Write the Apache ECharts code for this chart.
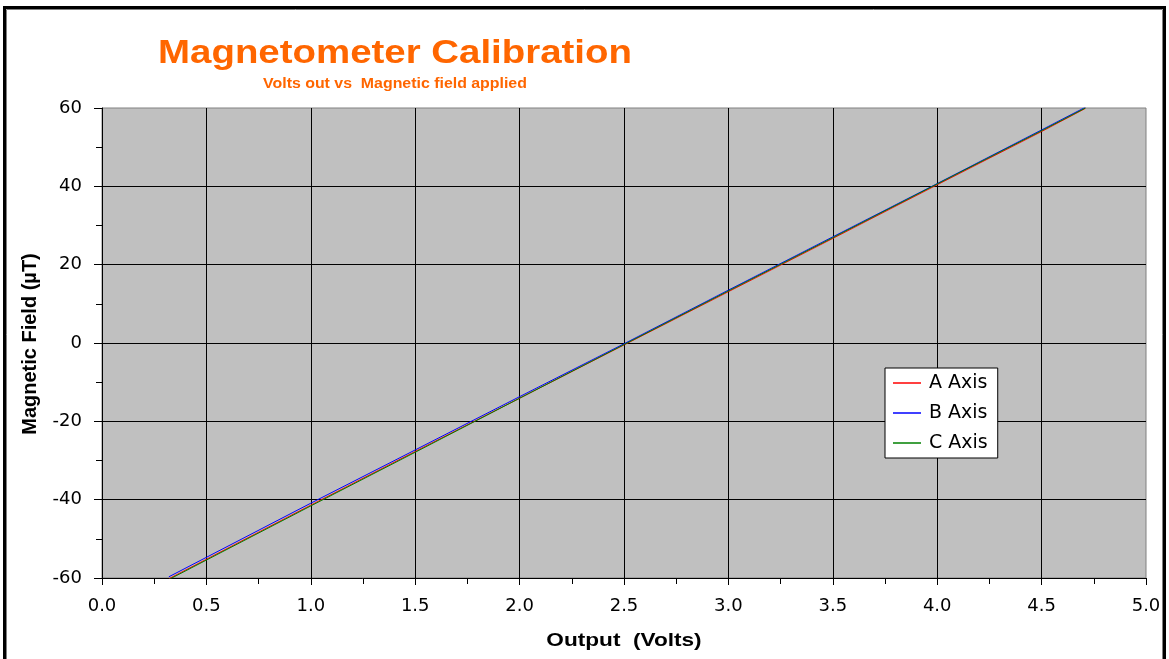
<!DOCTYPE html>
<html>
<head>
<meta charset="utf-8">
<script src="https://cdn.jsdelivr.net/npm/echarts@6/dist/echarts.min.js"></script>
<style>
html,body{margin:0;padding:0;background:#fff;}
#c{width:1169px;height:659px;}
</style>
</head>
<body>
<div id="c"></div>
<script>
// ---- data ----
const volts = [0.32, 1.0, 1.5, 2.0, 2.5, 3.0, 3.5, 4.0, 4.5, 4.71];
const fieldA = [-60.2, -41.4, -27.7, -14.1, -0.5, 13.1, 26.7, 40.4, 54.0, 59.9];
const fieldB = [-59.7, -40.9, -27.3, -13.7, -0.2, 13.5, 27.1, 40.7, 54.4, 60.2];
const fieldC = [-60.4, -41.6, -27.9, -14.1, -0.4, 13.3, 26.9, 40.6, 54.2, 60.0];
const seriesNames = ['A Axis', 'B Axis', 'C Axis'];
const seriesColors = ['#FF0000', '#0000FF', '#008000'];
const xTicks = ['0.0','0.5','1.0','1.5','2.0','2.5','3.0','3.5','4.0','4.5','5.0'];
const yTicks = [-60, -40, -20, 0, 20, 40, 60];
const titleText = 'Magnetometer Calibration';
const subtitleText = 'Volts out vs  Magnetic field applied';
const xName = 'Output  (Volts)';
const yName = 'Magnetic Field (\u00B5T)';

const pair = (vs) => volts.map((v, i) => [v, vs[i]]);
const allFields = [fieldA, fieldB, fieldC];

const chart = echarts.init(document.getElementById('c'), null, {renderer: 'canvas'});
const tickFont = {fontFamily: 'DejaVu Sans', fontSize: 18, color: '#000'};

chart.setOption({
  animation: false,
  backgroundColor: '#ffffff',
  grid: {left: 102, right: 23, top: 108, bottom: 81, show: true,
         backgroundColor: '#C0C0C0', borderColor: '#808080', borderWidth: 1},
  xAxis: {
    type: 'value', min: 0, max: 5, interval: 0.5,
    axisLine: {show: true, onZero: false, lineStyle: {color: '#000', width: 1}},
    axisTick: {show: true, length: 7, lineStyle: {color: '#000'}},
    minorTick: {show: true, splitNumber: 2, length: 6, lineStyle: {color: '#000'}},
    splitLine: {show: true, showMinLine: false, showMaxLine: false, lineStyle: {color: '#000', width: 1}},
    axisLabel: Object.assign({margin: 19, formatter: (v) => xTicks[Math.round(v / 0.5)]}, tickFont)
  },
  yAxis: {
    type: 'value', min: yTicks[0], max: yTicks[yTicks.length - 1], interval: 20,
    axisLine: {show: true, onZero: false, lineStyle: {color: '#000', width: 1}},
    axisTick: {show: true, length: 8, lineStyle: {color: '#000'}},
    minorTick: {show: true, splitNumber: 2, length: 6, lineStyle: {color: '#000'}},
    splitLine: {show: true, showMinLine: false, showMaxLine: false, lineStyle: {color: '#000', width: 1}},
    axisLabel: Object.assign({margin: 20}, tickFont)
  },
  legend: {
    orient: 'vertical', left: 885, top: 368,
    backgroundColor: '#ffffff', borderColor: '#000', borderWidth: 1,
    padding: [4, 10, 4, 8], itemGap: 8, itemWidth: 28, itemHeight: 1.5,
    icon: 'rect',
    textStyle: {fontFamily: 'DejaVu Sans', fontSize: 19, lineHeight: 22, color: '#000', padding: [0, 0, 0, 3]},
    data: seriesNames.map((n, i) => ({name: n, icon: 'rect', itemStyle: {color: seriesColors[i]}}))
  },
  series: seriesNames.map((n, i) => ({
    name: n, type: 'line', data: pair(allFields[i]),
    symbol: 'none', showSymbol: false, clip: true,
    lineStyle: {color: seriesColors[i], width: 1}, itemStyle: {color: seriesColors[i]}
  })),
  graphic: [
    {type: 'rect', silent: true, z: 100, shape: {x: 4.5, y: 7.5, width: 1160, height: 700},
     style: {fill: 'none', stroke: '#000', lineWidth: 3}},
    {type: 'rect', silent: true, z: 100, shape: {x: 6.5, y: 9.5, width: 1156, height: 700},
     style: {fill: 'none', stroke: '#808080', lineWidth: 1}},
    {type: 'text', x: 395, y: 54, scaleX: 1.13, z: 100,
     style: {text: titleText, font: 'bold 34px "Liberation Sans", Arial, sans-serif',
             fill: '#FF6600', textAlign: 'center', textVerticalAlign: 'middle'}},
    {type: 'text', x: 395, y: 84, scaleX: 1.06, z: 100,
     style: {text: subtitleText, font: 'bold 15px "Liberation Sans", Arial, sans-serif',
             fill: '#FF6600', textAlign: 'center', textVerticalAlign: 'middle'}},
    {type: 'text', x: 624, y: 641, scaleX: 1.19, z: 100,
     style: {text: xName, font: 'bold 19px "Liberation Sans", Arial, sans-serif',
             fill: '#000', textAlign: 'center', textVerticalAlign: 'middle'}},
    {type: 'text', x: 30, y: 344, rotation: Math.PI / 2, z: 100,
     style: {text: yName, font: 'bold 20px "Liberation Sans", Arial, sans-serif',
             fill: '#000', textAlign: 'center', textVerticalAlign: 'middle'}}
  ]
});
</script>
</body>
</html>
